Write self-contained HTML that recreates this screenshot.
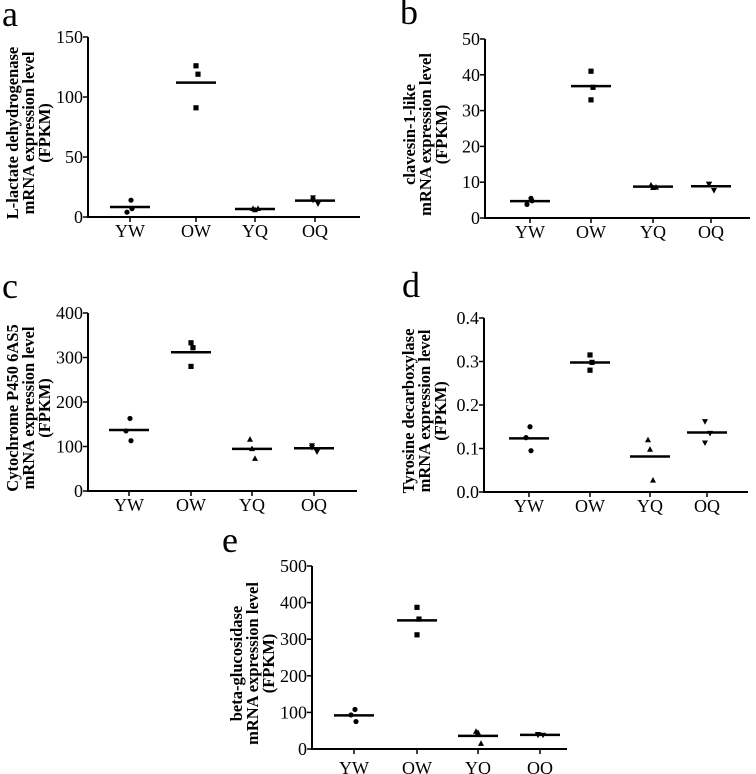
<!DOCTYPE html>
<html><head><meta charset="utf-8"><style>
html,body{margin:0;padding:0;background:#fff;}
svg{display:block;font-family:"Liberation Serif",serif;}
</style></head><body>
<svg id="fig" width="756" height="774" viewBox="0 0 756 774"></svg>
<script>
const categories = ["YW","OW","YQ","OQ"];
const aValues = [[14,4,7],[126,119,91],[7,6,7],[16,11,14]];
const bValues = [[5.5,3.8,4.8],[41,36.5,33],[9.2,8.5,8.6],[9.5,7.7,9.4]];
const cValues = [[163,135,113],[333,322,280],[116,95,73],[102,88,98]];
const dValues = [[0.15,0.125,0.095],[0.315,0.298,0.28],[0.12,0.098,0.027],[0.162,0.135,0.113]];
const eValues = [[108,93,75],[387,355,312],[48,45,15],[40,38,38]];
const aTicks = [0,50,100,150];
const bTicks = [0,10,20,30,40,50];
const cTicks = [0,100,200,300,400];
const dTicks = [0,0.1,0.2,0.3,0.4];
const eTicks = [0,100,200,300,400,500];
const dTickLabels = ["0.0","0.1","0.2","0.3","0.4"];

const NS="http://www.w3.org/2000/svg";
const svg=document.getElementById('fig');
function mk(tag,attrs,parent){const e=document.createElementNS(NS,tag);for(const k in attrs)e.setAttribute(k,attrs[k]);(parent||svg).appendChild(e);return e;}

const panels=[
 {id:'a',vals:aValues,ticks:aTicks,labels:null,ax:88,top:37,bot:217,end:360,gx:[130,196,255,315],lx:2,ly:26,title:["L-lactate dehydrogenase","mRNA expression level","(FPKM)"],lblY:230},
 {id:'b',vals:bValues,ticks:bTicks,labels:null,ax:485,top:39,bot:218,end:750,gx:[530,591,653,711],lx:400,ly:24,title:["clavesin-1-like","mRNA expression level","(FPKM)"],lblY:231},
 {id:'c',vals:cValues,ticks:cTicks,labels:null,ax:88,top:313,bot:491,end:357,gx:[129,191,252,314],lx:2,ly:298,title:["Cytochrome P450 6AS5","mRNA expression level","(FPKM)"],lblY:504},
 {id:'d',vals:dValues,ticks:dTicks,labels:dTickLabels,ax:484,top:318,bot:492,end:748,gx:[529,590,650,707],lx:402,ly:297,title:["Tyrosine decarboxylase","mRNA expression level","(FPKM)"],lblY:505},
 {id:'e',vals:eValues,ticks:eTicks,labels:null,ax:312,top:566,bot:749,end:567,gx:[354,417,478,540],lx:222,ly:552,title:["beta-glucosidase","mRNA expression level","(FPKM)"],lblY:767}
];
const jitter=[[1,-3,2],[0,2,0],[-2,0,3],[-2,3,-2]];

panels.forEach(p=>{
  const g=mk('g',{});
  
  
  const maxT=p.ticks[p.ticks.length-1];
  const y=v=>p.bot-(v/maxT)*(p.bot-p.top);
  const pl=mk('text',{x:p.lx,y:p.ly,'font-size':36},g);pl.textContent=p.id;
  
  
  const yax=mk('line',{x1:p.ax,y1:p.top,x2:p.ax,y2:p.bot+1,stroke:'#000','stroke-width':2},g);
  
  
  const xax=mk('line',{x1:p.ax-1,y1:p.bot,x2:p.end,y2:p.bot,stroke:'#000','stroke-width':2},g);
  
  
  p.ticks.forEach((t,i)=>{
    mk('line',{x1:p.ax-5,y1:y(t),x2:p.ax,y2:y(t),stroke:'#000','stroke-width':1.5},g);
    const tl=mk('text',{x:p.ax-5,y:y(t)+6,'font-size':18,'text-anchor':'end'},g);
    tl.textContent=p.labels?p.labels[i]:String(t);
    
    
  });
  const tt=mk('text',{transform:`translate(${p.ax-55},${(p.top+p.bot)/2+6}) rotate(-90)`,'font-size':16.5,'font-weight':'bold','text-anchor':'middle'},g);
  
  
  p.title.forEach((s,i)=>{const ts=mk('tspan',{x:0,y:-15+i*16},tt);ts.textContent=s;});
  categories.forEach((c,ci)=>{
    const cx=p.gx[ci];
    mk('line',{x1:cx,y1:p.bot,x2:cx,y2:p.bot+5,stroke:'#000','stroke-width':1.5},g);
    const xl=mk('text',{x:cx,y:p.lblY+7,'font-size':18,'text-anchor':'middle'},g);
    xl.textContent=c;
    
    
    const vs=p.vals[ci];
    const mean=vs.reduce((a,b)=>a+b,0)/vs.length;
    const ml=mk('line',{x1:cx-20,y1:y(mean),x2:cx+20,y2:y(mean),stroke:'#000','stroke-width':2.5},g);
    
    
    vs.forEach((v,vi)=>{
      const px=cx+jitter[ci][vi], py=y(v);
      let m;
      if(ci===0) m=mk('circle',{cx:px,cy:py,r:2.6,fill:'#000'},g);
      else if(ci===1) m=mk('rect',{x:px-2.6,y:py-2.6,width:5.2,height:5.2,fill:'#000'},g);
      else if(ci===2) m=mk('polygon',{points:`${px},${py-3.2} ${px-3},${py+2.4} ${px+3},${py+2.4}`,fill:'#000'},g);
      else m=mk('polygon',{points:`${px},${py+3.2} ${px-3},${py-2.4} ${px+3},${py-2.4}`,fill:'#000'},g);
      
      
    });
  });
});
</script>
</body></html>
